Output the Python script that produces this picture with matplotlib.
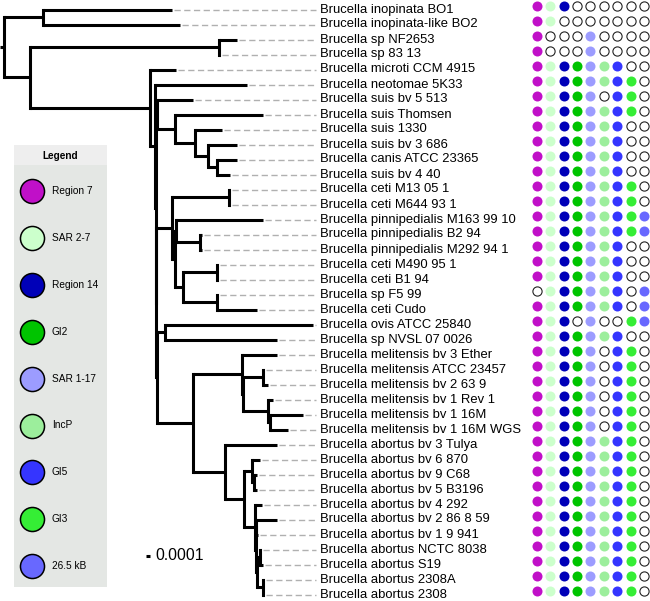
import matplotlib.pyplot as plt
from matplotlib.collections import LineCollection
from matplotlib.patches import Rectangle

plt.rcParams['font.family'] = ['Liberation Sans', 'DejaVu Sans']

# phylogeny, branch lengths in substitutions per site
tree_newick = (
    "((Brucella inopinata BO1:0.003225,Brucella inopinata-like BO2:0.003425):0.000975,"
    "((Brucella sp NF2653:0.00045,Brucella sp 83 13:0.000025):0.004725,"
    "(Brucella microti CCM 4915:0.00065,"
    "(Brucella neotomae 5K33:0.0023,"
    "((Brucella suis bv 5 513:0.0009,"
    "(Brucella suis Thomsen:0.0022,"
    "(Brucella suis 1330:0.000675,"
    "(Brucella suis bv 3 686:0.000725,"
    "(Brucella canis ATCC 23365:0.0005,Brucella suis bv 4 40:0.000325):0.000225"
    "):0.000325):0.0005):0.00045):0.0000375,"
    "(((Brucella ceti M13 05 1:0.000025,Brucella ceti M644 93 1:0.000025):0.001425,"
    "((Brucella pinnipedialis M163 99 10:0.002175,"
    "(Brucella pinnipedialis B2 94:0.00005,Brucella pinnipedialis M292 94 1:0.00005):0.0006"
    "):0.000025,"
    "((Brucella ceti M490 95 1:0.000025,Brucella ceti B1 94:0.000025):0.00085,"
    "(Brucella sp F5 99:0.000025,Brucella ceti Cudo:0.001):0.00085"
    "):0.0002):0.000075):0.0004,"
    "((Brucella ovis ATCC 25840:0.0037,Brucella sp NVSL 07 0026:0.0028):0.0002125,"
    "((Brucella melitensis bv 3 Ether:0.000875,"
    "((Brucella melitensis ATCC 23457:0.000025,Brucella melitensis bv 2 63 9:0.000125):0.0005,"
    "(Brucella melitensis bv 1 Rev 1:0.000125,"
    "(Brucella melitensis bv 1 16M:0.000825,Brucella melitensis bv 1 16M WGS:0.00045):0.00005"
    "):0.000625):0.000025):0.001225,"
    "(Brucella abortus bv 3 Tulya:0.0013,"
    "((Brucella abortus bv 6 870:0.0002,"
    "(Brucella abortus bv 9 C68:0.000075,Brucella abortus bv 5 B3196:0.000075):0.00005"
    "):0.0002,"
    "(Brucella abortus bv 4 292:0.000175,"
    "((Brucella abortus bv 2 86 8 59:0.000525,Brucella abortus bv 1 9 941:0.00005):0.0000125,"
    "((Brucella abortus NCTC 8038:0.0000375,Brucella abortus S19:0.0000875):0.000075,"
    "(Brucella abortus 2308A:0.000025,Brucella abortus 2308:0.000025):0.0001625"
    "):0.000025):0.0000125):0.000275):0.000475):0.0008"
    "):0.0009125):0.0000125):0.0000125):0.0000125):0.000125):0.003):0.00065);"
)

regions = ["Region 7", "SAR 2-7", "Region 14", "GI2", "SAR 1-17",
           "IncP", "GI5", "GI3", "26.5 kB"]
region_colors = ["#c010c8", "#ccffcc", "#0000b8", "#00c400", "#9c9cff",
                 "#9cee9c", "#3535ff", "#35ee35", "#6868ff"]

# presence (1) / absence (0) per tip, in tree order
presence = [
    "111000000", "110000000", "100010000", "100010000",
    "111111100", "111111110", "111110110", "111111110",
    "111111100", "111111100", "111111100", "111111100",
    "111111110", "111111110", "111111111", "111111111",
    "111111100", "111111100", "111111100", "011111101",
    "111111101", "111010011", "111111100",
    "111110110", "111110110", "111110110", "111110110", "111110110", "111110110",
    "111111110", "111111110", "111111110", "111111110", "111111110", "111111110",
    "111111110", "111111110", "111111110", "111111110", "111111110",
]

scale_value = 0.0001


def parse_newick(s):
    pos = 0

    def node():
        nonlocal pos
        children = []
        if s[pos] == '(':
            pos += 1
            children.append(node())
            while s[pos] == ',':
                pos += 1
                children.append(node())
            pos += 1
        start = pos
        while s[pos] not in ':,);':
            pos += 1
        name = s[start:pos].strip()
        length = 0.0
        if s[pos] == ':':
            pos += 1
            start = pos
            while s[pos] not in ',);':
                pos += 1
            length = float(s[start:pos])
        return {'name': name, 'len': length, 'children': children}

    return node()


tips = []


def layout(n, depth):
    n['x'] = depth + n['len']
    if n['children']:
        for c in n['children']:
            layout(c, n['x'])
        n['y'] = (n['children'][0]['y'] + n['children'][-1]['y']) / 2
    else:
        n['y'] = len(tips)
        tips.append(n)


root = parse_newick(tree_newick)
layout(root, 0.0)

px = 0.000025  # one pixel in tree units
fig = plt.figure(figsize=(6.5, 6.01), dpi=100)
ax = fig.add_axes([0, 0, 1, 1])
ax.set_xlim(-4 * px, 646 * px)
ax.set_ylim((601 - 9.5) / 15, -9.5 / 15)
ax.axis('off')

verts, horiz = [], []


def collect(n):
    if n['children']:
        ys = [c['y'] for c in n['children']]
        verts.append([(n['x'], min(ys)), (n['x'], max(ys))])
        for c in n['children']:
            horiz.append([(n['x'], c['y']), (c['x'], c['y'])])
            collect(c)


collect(root)
horiz.append([(-4 * px, root['y']), (0, root['y'])])
ax.add_collection(LineCollection(verts, colors='black', linewidths=2.2,
                                 capstyle='projecting'))
ax.add_collection(LineCollection(horiz, colors='black', linewidths=2.2,
                                 capstyle='butt'))

max_x = max(t['x'] for t in tips)
dash_end = max_x + 3 * px
label_x = max_x + 7 * px
for t in tips:
    ax.plot([t['x'] + 2 * px, dash_end], [t['y'], t['y']], color='#b0b0b0',
            lw=1.0, ls=(0, (4.5, 2.5)))
    ax.text(label_x, t['y'], t['name'], fontsize=9.4, va='center', ha='left')

# scale bar
sb_x = 0.00355
sb_y = 36.43
ax.plot([sb_x, sb_x + scale_value], [sb_y, sb_y], color='black', lw=2.2,
        solid_capstyle='butt')
ax.text(sb_x + scale_value + 5 * px, sb_y, f"{scale_value:.4f}", fontsize=11.3,
        va='center', ha='left')

# presence matrix
ax2 = fig.add_axes([530 / 650, 0, 120 / 650, 1])
ax2.set_xlim(-0.52, 8.45)
ax2.set_ylim(ax.get_ylim())
ax2.axis('off')
for i, row in enumerate(presence):
    for j, flag in enumerate(row):
        if flag == '1':
            ax2.scatter(j, i - 0.22, s=52, color=region_colors[j], linewidths=0)
        else:
            ax2.scatter(j, i - 0.22, s=44, facecolor='white', edgecolor='#222222',
                        linewidths=0.8)

# legend box
axl = fig.add_axes([14 / 650, 1 - 587 / 601, 93 / 650, 442 / 601])
axl.set_xlim(0, 93)
axl.set_ylim(442, 0)
axl.set_facecolor('#e4e7e4')
axl.set_xticks([])
axl.set_yticks([])
for sp in axl.spines.values():
    sp.set_visible(False)
axl.add_patch(Rectangle((0, 0), 93, 20, color='#eeeeee', lw=0))
axl.text(46.5, 11, "Legend", fontsize=7.2, fontweight='bold', ha='center', va='center')
for k, (name, col) in enumerate(zip(regions, region_colors)):
    yk = 46 + 46.9 * k
    axl.scatter(18, yk, s=300, color=col, edgecolor='black', linewidths=1.1)
    axl.text(38, yk, name, fontsize=7.3, va='center', ha='left')

plt.savefig("out.png", dpi=100)
